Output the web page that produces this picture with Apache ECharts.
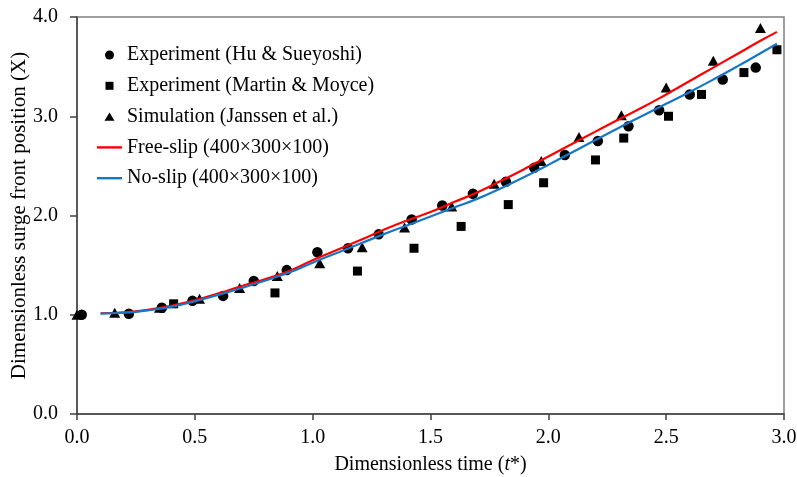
<!DOCTYPE html>
<html>
<head>
<meta charset="utf-8">
<script src="https://cdn.jsdelivr.net/npm/echarts@6/dist/echarts.min.js"></script>
<style>
  html, body { margin: 0; padding: 0; background: #fff; }
  #chart { width: 797px; height: 477px; }
</style>
</head>
<body>
<div id="chart"></div>
<script>
// Surge front position vs. dimensionless time: experiments, reference simulation and two wall conditions.
const xTicks = [0.0, 0.5, 1.0, 1.5, 2.0, 2.5, 3.0];
const yTicks = [0.0, 1.0, 2.0, 3.0, 4.0];

const huT = [0.02, 0.22, 0.36, 0.49, 0.62, 0.75, 0.89, 1.02, 1.15, 1.28, 1.42, 1.55, 1.68, 1.82, 1.94, 2.07, 2.21, 2.34, 2.47, 2.60, 2.74, 2.88];
const huX = [1.00, 1.01, 1.07, 1.14, 1.19, 1.34, 1.45, 1.63, 1.67, 1.81, 1.96, 2.10, 2.22, 2.34, 2.48, 2.61, 2.75, 2.90, 3.06, 3.22, 3.37, 3.49];

const martinT = [0.41, 0.84, 1.19, 1.43, 1.63, 1.83, 1.98, 2.20, 2.32, 2.51, 2.65, 2.83, 2.97];
const martinX = [1.11, 1.22, 1.44, 1.67, 1.89, 2.11, 2.33, 2.56, 2.78, 3.00, 3.22, 3.44, 3.67];

const janssenT = [0.00, 0.16, 0.35, 0.52, 0.69, 0.85, 1.03, 1.21, 1.39, 1.59, 1.77, 1.97, 2.13, 2.31, 2.50, 2.70, 2.90];
const janssenX = [1.00, 1.02, 1.07, 1.16, 1.27, 1.39, 1.52, 1.68, 1.88, 2.09, 2.32, 2.55, 2.79, 3.01, 3.29, 3.56, 3.89];

const freeT = [0.10, 0.20, 0.30, 0.40, 0.50, 0.60, 0.70, 0.80, 0.90, 1.00, 1.10, 1.20, 1.30, 1.40, 1.50, 1.60, 1.70, 1.80, 1.90, 2.00, 2.10, 2.20, 2.30, 2.40, 2.50, 2.60, 2.70, 2.80, 2.90, 2.97];
const freeX = [1.015, 1.025, 1.05, 1.09, 1.145, 1.215, 1.29, 1.36, 1.44, 1.55, 1.65, 1.75, 1.855, 1.95, 2.035, 2.135, 2.235, 2.35, 2.47, 2.595, 2.72, 2.845, 2.97, 3.09, 3.22, 3.355, 3.49, 3.625, 3.76, 3.85];

const noT = [0.10, 0.20, 0.30, 0.40, 0.50, 0.60, 0.70, 0.80, 0.90, 1.00, 1.10, 1.20, 1.30, 1.40, 1.50, 1.60, 1.70, 1.80, 1.90, 2.00, 2.10, 2.20, 2.30, 2.40, 2.50, 2.60, 2.70, 2.80, 2.90, 2.97];
const noX = [1.012, 1.02, 1.045, 1.08, 1.135, 1.20, 1.27, 1.345, 1.425, 1.525, 1.62, 1.715, 1.81, 1.90, 1.99, 2.08, 2.17, 2.275, 2.39, 2.51, 2.635, 2.76, 2.885, 3.005, 3.125, 3.245, 3.37, 3.50, 3.635, 3.73];

const seriesNames = [
  'Experiment (Hu & Sueyoshi)',
  'Experiment (Martin & Moyce)',
  'Simulation (Janssen et al.)',
  'Free-slip (400×300×100)',
  'No-slip (400×300×100)'
];

const zip = (a, b) => a.map((v, i) => [v, b[i]]);
const serif = '"Liberation Serif", "Times New Roman", "DejaVu Serif", serif';
const FS = 20;

// Legend icons: each path spans the full 25×10 icon box (via the leading moveTo
// corners) so the marker keeps its own size centred inside it.
const legendIcons = {
  circle: 'path://M0,0M25,10M8,5A4.5,4.5,0,1,1,17,5A4.5,4.5,0,1,1,8,5Z',
  square: 'path://M0,0M25,10M8.5,1L16.5,1L16.5,9L8.5,9Z',
  triangle: 'path://M0,0M25,10M12.5,0.8L17.5,9.2L7.5,9.2Z',
  line: 'path://M0,0M25,10M0,3.8L25,3.8L25,6.2L0,6.2Z'
};

const chart = echarts.init(document.getElementById('chart'), null, { renderer: 'canvas' });

chart.setOption({
  animation: false,
  backgroundColor: '#ffffff',
  textStyle: { fontFamily: serif },
  grid: {
    left: 77, right: 13, top: 17, bottom: 63,
    containLabel: false, outerBoundsMode: 'none',
    show: true, borderColor: '#7f7f7f', borderWidth: 1.5
  },
  legend: {
    orient: 'vertical',
    left: 97, top: 45, padding: 0,
    itemWidth: 25, itemHeight: 10, itemGap: 10.8,
    symbolKeepAspect: true,
    textStyle: { fontFamily: serif, fontSize: FS, color: '#000' },
    data: [
      { name: seriesNames[0], icon: legendIcons.circle },
      { name: seriesNames[1], icon: legendIcons.square },
      { name: seriesNames[2], icon: legendIcons.triangle },
      { name: seriesNames[3], icon: legendIcons.line },
      { name: seriesNames[4], icon: legendIcons.line }
    ]
  },
  xAxis: {
    type: 'value',
    min: 0, max: 3, interval: 0.5,
    name: '{n|Dimensionless time (}{i|t}{n|*)}',
    nameLocation: 'middle', nameGap: 41, nameMoveOverlap: false,
    nameTextStyle: {
      rich: {
        n: { fontFamily: serif, fontSize: FS, color: '#000' },
        i: { fontFamily: serif, fontSize: FS, color: '#000', fontStyle: 'italic' }
      }
    },
    axisLine: { show: true, lineStyle: { color: '#404040', width: 1.5 } },
    axisTick: { show: true, inside: false, length: 6, lineStyle: { color: '#404040', width: 1.5 } },
    axisLabel: {
      fontFamily: serif, fontSize: FS, color: '#000', margin: 14,
      formatter: v => xTicks.includes(v) ? v.toFixed(1) : ''
    },
    splitLine: { show: false }
  },
  yAxis: {
    type: 'value',
    min: 0, max: 4, interval: 1,
    name: 'Dimensionless surge front position (X)',
    nameLocation: 'middle', nameGap: 47, nameMoveOverlap: false,
    nameTextStyle: { fontFamily: serif, fontSize: 21, color: '#000' },
    axisLine: { show: true, lineStyle: { color: '#404040', width: 1.5 } },
    axisTick: { show: true, inside: false, length: 7, lineStyle: { color: '#404040', width: 1.5 } },
    axisLabel: {
      fontFamily: serif, fontSize: FS, color: '#000', margin: 19,
      formatter: v => yTicks.includes(v) ? v.toFixed(1) : ''
    },
    splitLine: { show: false }
  },
  series: [
    {
      name: seriesNames[0], type: 'scatter', symbol: 'circle', symbolSize: 10.5,
      itemStyle: { color: '#000', opacity: 1 }, data: zip(huT, huX)
    },
    {
      name: seriesNames[1], type: 'scatter', symbol: 'rect', symbolSize: 9,
      itemStyle: { color: '#000', opacity: 1 }, data: zip(martinT, martinX)
    },
    {
      name: seriesNames[2], type: 'scatter', symbol: 'triangle', symbolSize: [11, 10],
      itemStyle: { color: '#000', opacity: 1 }, data: zip(janssenT, janssenX)
    },
    {
      name: seriesNames[3], type: 'line', smooth: true, showSymbol: false, symbol: 'none',
      lineStyle: { color: '#ff0000', width: 2.2 }, itemStyle: { color: '#ff0000' },
      data: zip(freeT, freeX)
    },
    {
      name: seriesNames[4], type: 'line', smooth: true, showSymbol: false, symbol: 'none',
      lineStyle: { color: '#1677c8', width: 2.2 }, itemStyle: { color: '#1677c8' },
      data: zip(noT, noX)
    }
  ]
});
</script>
</body>
</html>
